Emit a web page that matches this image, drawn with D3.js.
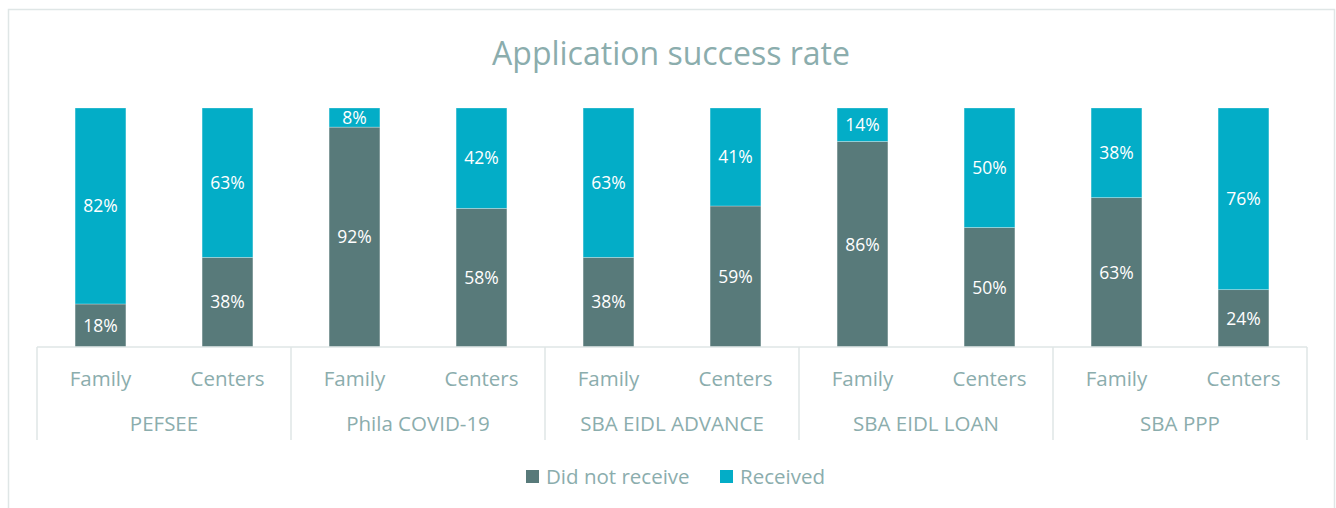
<!DOCTYPE html>
<html>
<head>
<meta charset="utf-8">
<script src="https://cdn.jsdelivr.net/npm/d3@7"></script>
<style>
  body { margin: 0; background: #fff; }
  text { font-family: "Open Sans", "DejaVu Sans", sans-serif; }
</style>
</head>
<body>
<div id="chart"></div>
<script>
var programs = ['PEFSEE', 'Phila COVID-19', 'SBA EIDL ADVANCE', 'SBA EIDL LOAN', 'SBA PPP'];
var providerTypes = ['Family', 'Centers'];
var seriesNames = ['Did not receive', 'Received'];
// percent values per bar, in order program x providerType
var didNotReceive = [18, 37.5, 92, 58, 37.5, 59, 86, 50, 62.5, 24];
var received = [82, 62.5, 8, 42, 62.5, 41, 14, 50, 37.5, 76];
var colors = ['#587a7a', '#03adc7'];

var width = 1336, height = 508;
var textColor = '#8badad';
var lineColor = '#dfe6e6';

var rows = [];
programs.forEach(function(p, i) {
    providerTypes.forEach(function(t, j) {
        var k = i * providerTypes.length + j;
        var total = didNotReceive[k] + received[k];
        rows.push({key: p + '|' + t, program: p, type: t,
            'Did not receive': didNotReceive[k] / total,
            'Received': received[k] / total,
            raw: [didNotReceive[k], received[k]]});
    });
});

var svg = d3.select('#chart').append('svg')
    .attr('width', width)
    .attr('height', height);

// chart frame
svg.append('rect')
    .attr('x', 8.5).attr('y', 9.5)
    .attr('width', 1326).attr('height', 520)
    .attr('fill', 'none')
    .attr('stroke', lineColor)
    .attr('stroke-width', 1.5);

svg.append('text')
    .attr('x', 671).attr('y', 65)
    .attr('text-anchor', 'middle')
    .style('font-size', '32px')
    .style('fill', textColor)
    .text('Application success rate');

var x = d3.scaleBand()
    .domain(rows.map(function(d) { return d.key; }))
    .range([37, 1307])
    .paddingInner(0.6)
    .paddingOuter(0.3);

var y = d3.scaleLinear().domain([0, 1]).range([347, 108]);

var stacked = d3.stack().keys(seriesNames)(rows);

var layers = svg.selectAll('.layer')
    .data(stacked)
    .enter().append('g')
    .attr('class', 'layer')
    .attr('fill', function(d, i) { return colors[i]; });

layers.selectAll('rect')
    .data(function(d) { return d; })
    .enter().append('rect')
    .attr('x', function(d) { return x(d.data.key); })
    .attr('width', x.bandwidth())
    .attr('y', function(d) { return y(d[1]); })
    .attr('height', function(d) { return y(d[0]) - y(d[1]); })
    .attr('stroke', '#ffffff')
    .attr('stroke-opacity', 0.35)
    .attr('stroke-width', 0.8);

// data labels
layers.each(function(layer, si) {
    d3.select(this).selectAll('.lbl')
        .data(layer)
        .enter().append('text')
        .attr('class', 'lbl')
        .attr('x', function(d) { return x(d.data.key) + x.bandwidth() / 2; })
        .attr('y', function(d) { return (y(d[0]) + y(d[1])) / 2; })
        .attr('dy', '0.36em')
        .attr('text-anchor', 'middle')
        .style('font-size', '17.5px')
        .style('fill', '#ffffff')
        .text(function(d) { return Math.round(d.data.raw[si]) + '%'; });
});

// category axis
var axisY = 347;
svg.append('line')
    .attr('x1', 37).attr('x2', 1307)
    .attr('y1', axisY).attr('y2', axisY)
    .attr('stroke', lineColor).attr('stroke-width', 1.5);

var axis = d3.axisBottom(x)
    .tickSize(0)
    .tickPadding(0)
    .tickFormat(function(k) { return k.split('|')[1]; });

var axisG = svg.append('g')
    .attr('transform', 'translate(0,' + axisY + ')')
    .call(axis);
axisG.select('.domain').remove();
axisG.selectAll('text')
    .attr('y', 39)
    .attr('dy', 0)
    .style('font-size', '20.5px')
    .style('font-family', '"Open Sans", sans-serif')
    .style('fill', textColor);

// group dividers and labels
var groupStep = (x.range()[1] - x.range()[0]) / programs.length;
d3.range(programs.length + 1).forEach(function(i) {
    var gx = x.range()[0] + i * groupStep;
    svg.append('line')
        .attr('x1', gx).attr('x2', gx)
        .attr('y1', axisY).attr('y2', 440)
        .attr('stroke', lineColor).attr('stroke-width', 1.5);
});

svg.selectAll('.group-label')
    .data(programs)
    .enter().append('text')
    .attr('class', 'group-label')
    .attr('x', function(d, i) { return x.range()[0] + (i + 0.5) * groupStep; })
    .attr('y', 431)
    .attr('text-anchor', 'middle')
    .style('font-size', '20.5px')
    .style('fill', textColor)
    .text(function(d) { return d; });

// legend
var legendX = [526, 720];
var legend = svg.selectAll('.legend')
    .data(seriesNames)
    .enter().append('g')
    .attr('class', 'legend')
    .attr('transform', function(d, i) { return 'translate(' + legendX[i] + ',470)'; });

legend.append('rect')
    .attr('width', 13).attr('height', 13)
    .attr('fill', function(d, i) { return colors[i]; });

legend.append('text')
    .attr('x', 20).attr('y', 13.5)
    .style('font-size', '20.5px')
    .style('fill', textColor)
    .text(function(d) { return d; });
</script>
</body>
</html>
